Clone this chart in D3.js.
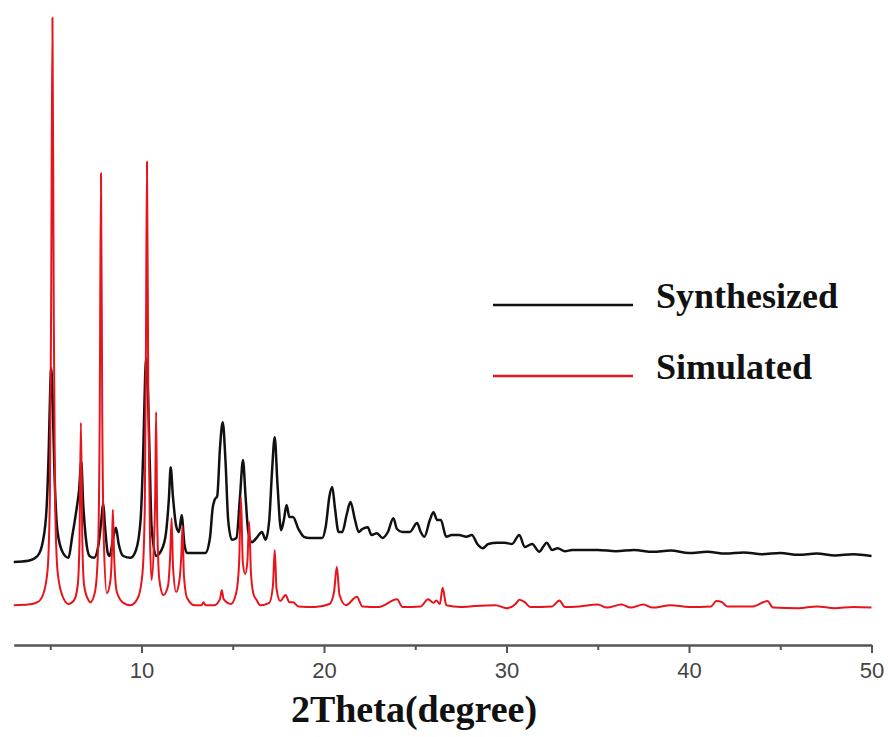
<!DOCTYPE html>
<html>
<head>
<meta charset="utf-8">
<script src="https://cdn.jsdelivr.net/npm/d3@7"></script>
<style>
  body { margin: 0; background: #fff; }
  svg { display: block; }
</style>
</head>
<body>
<svg id="chart" width="888" height="737"></svg>
<script>
// x tick labels
const majorTicks = [10, 20, 30, 40, 50];
const minorTicks = [5, 15, 25, 35, 45];

// [2theta, intensity a.u.] (curves already offset)
const synthesized = [
  [3.0, 11], [3.8, 11.2], [4.3, 12], [4.6, 14.5], [4.8, 20], [4.92, 30], [5.0, 40], [5.05, 43.3],
  [5.12, 39], [5.22, 27], [5.4, 16], [5.7, 12.5], [6.0, 11.7], [6.2, 15.2], [6.45, 20], [6.58, 23],
  [6.7, 27.7], [6.8, 21], [6.95, 15], [7.15, 12], [7.4, 11.7], [7.65, 14], [7.8, 18], [7.9, 20.8],
  [8.0, 17], [8.15, 12.5], [8.25, 12], [8.45, 15], [8.6, 16.7], [8.75, 14], [9.0, 12], [9.4, 11.7],
  [9.7, 13], [9.95, 18], [10.1, 30], [10.2, 42], [10.25, 45], [10.32, 42], [10.45, 28], [10.55, 17],
  [10.8, 12], [11.0, 12.5], [11.3, 15], [11.5, 21.5], [11.6, 26.8], [11.72, 22], [11.9, 17],
  [12.05, 16], [12.2, 18.8], [12.35, 14], [12.5, 12.5], [13.0, 12.5], [13.5, 12.5], [13.75, 15],
  [13.9, 20], [14.0, 21.3], [14.15, 22], [14.3, 30], [14.45, 34.3], [14.6, 28], [14.75, 18],
  [14.95, 14.7], [15.2, 15], [15.4, 22], [15.56, 28], [15.7, 22], [15.85, 16], [16.05, 14.3],
  [16.3, 15], [16.6, 16], [16.8, 14.7], [17.0, 18], [17.15, 26], [17.3, 31.8], [17.45, 24],
  [17.65, 16.3], [17.8, 18], [17.95, 20.5], [18.1, 18.5], [18.3, 18.5], [18.6, 16.5], [18.9, 15.2],
  [19.2, 15], [19.5, 15], [19.9, 15], [20.1, 17], [20.3, 22], [20.45, 23.5], [20.6, 20], [20.8, 16],
  [21.0, 16], [21.25, 19], [21.45, 21], [21.7, 18], [21.9, 16], [22.1, 16.5], [22.4, 16.8],
  [22.6, 15.5], [22.9, 15.8], [23.2, 15], [23.5, 16], [23.8, 18.3], [24.0, 16.5], [24.3, 16],
  [24.7, 16], [25.1, 17.5], [25.3, 16], [25.5, 15.2], [25.8, 18], [26.0, 19.3], [26.2, 18],
  [26.4, 18], [26.7, 15.2], [27.0, 15.5], [27.4, 15.5], [27.8, 15.2], [28.1, 15.5], [28.4, 14],
  [28.7, 13.3], [29.0, 14], [29.5, 14.2], [29.9, 14.2], [30.3, 14], [30.7, 15.5], [31.0, 13.5],
  [31.4, 14], [31.8, 12.7], [32.0, 13.5], [32.2, 14.2], [32.5, 13], [32.8, 13.3], [33.2, 12.8],
  [33.6, 13], [34.0, 13], [35.0, 13.0], [36.0, 12.8], [37.0, 13.0], [38.0, 12.7], [39.0, 12.9],
  [40.0, 12.5], [41.0, 12.7], [42.0, 12.4], [43.0, 12.6], [44.0, 12.3], [45.0, 12.5], [46.0, 12.2],
  [47.0, 12.4], [48.0, 12.1], [49.0, 12.3], [50.0, 12.0]
];

const simulated = [
  [3.0, 3.8], [3.8, 3.9], [4.3, 4.3], [4.6, 5.5], [4.85, 9.5], [4.98, 22], [5.05, 55], [5.12, 101.7],
  [5.19, 55], [5.26, 22], [5.4, 9.5], [5.65, 5.5], [6.0, 4.0], [6.3, 4.6], [6.5, 7], [6.6, 14],
  [6.68, 34.2], [6.76, 14], [6.86, 7], [7.1, 4.6], [7.2, 4.3], [7.45, 6], [7.62, 13], [7.71, 35],
  [7.78, 75.8], [7.85, 35], [7.94, 14], [8.1, 5.8], [8.3, 8], [8.38, 13], [8.43, 19.7], [8.5, 12],
  [8.65, 6], [9.0, 4.2], [9.4, 3.8], [9.8, 5], [10.05, 9], [10.18, 20], [10.24, 45], [10.3, 77.7],
  [10.37, 40], [10.46, 16], [10.55, 8], [10.68, 14], [10.75, 22], [10.8, 36], [10.86, 18],
  [10.98, 8], [11.2, 5.5], [11.45, 7], [11.57, 12], [11.65, 18.3], [11.73, 10], [11.9, 6],
  [12.08, 8], [12.18, 12], [12.25, 17], [12.32, 9], [12.5, 5], [12.9, 3.8], [13.3, 3.8], [13.4, 4.3],
  [13.5, 3.8], [14.0, 3.8], [14.3, 4.8], [14.4, 6.3], [14.5, 4.8], [14.9, 4.0], [15.2, 6],
  [15.35, 11], [15.45, 21.8], [15.55, 11], [15.68, 9], [15.8, 11], [15.9, 17.7], [16.0, 9],
  [16.15, 5.5], [16.3, 4.7], [16.5, 3.8], [17.0, 4.2], [17.2, 7], [17.3, 13], [17.4, 6.5],
  [17.6, 4.5], [17.9, 5.5], [18.1, 4.3], [18.3, 4.3], [18.6, 3.6], [19.5, 3.5], [20.3, 4],
  [20.55, 6], [20.7, 10.2], [20.85, 5.5], [21.2, 3.8], [21.8, 5.2], [22.1, 3.6], [23.0, 3.5],
  [24.0, 4.8], [24.3, 3.5], [25.3, 3.6], [25.7, 4.8], [26.0, 4.2], [26.15, 4.6], [26.35, 4.0],
  [26.5, 6.7], [26.7, 3.8], [27.5, 3.5], [28.0, 3.6], [29.4, 3.8], [30.0, 3.3], [30.5, 4.0],
  [30.7, 4.7], [31.0, 4.3], [31.3, 3.5], [32.5, 3.6], [32.9, 4.6], [33.2, 3.5], [34.0, 3.6],
  [35.0, 3.9], [35.5, 3.4], [36.3, 3.9], [36.8, 3.4], [37.5, 3.9], [38.0, 3.4], [39.0, 3.8],
  [40.0, 3.5], [41.2, 3.6], [41.5, 4.5], [41.8, 4.3], [42.1, 3.6], [43.5, 3.6], [44.3, 4.5],
  [44.6, 3.4], [46.0, 3.3], [47.0, 3.6], [48.0, 3.3], [49.0, 3.5], [50.0, 3.4]
];

const seriesNames = ["Synthesized", "Simulated"];
const seriesColors = ["#111111", "#e8141c"];
const seriesWidths = [2.5, 2];

const svg = d3.select("#chart");

const x = d3.scaleLinear().domain([3, 50]).range([13.75, 871.5]);
const y = d3.scaleLinear().domain([0, 100]).range([628, 28]);

const line = d3.line()
  .x(d => x(d[0]))
  .y(d => y(d[1]))
  .curve(d3.curveMonotoneX);

// traces
[synthesized, simulated].forEach((data, i) => {
  svg.append("path")
    .datum(data)
    .attr("fill", "none")
    .attr("stroke", seriesColors[i])
    .attr("stroke-width", seriesWidths[i])
    .attr("stroke-linejoin", "round")
    .attr("d", line);
});

// x axis
const axisY = 645;
const axisG = svg.append("g")
  .attr("transform", `translate(0,${axisY})`)
  .call(d3.axisBottom(x).tickValues(majorTicks).tickSize(8).tickSizeOuter(0).tickPadding(9));

axisG.select(".domain").attr("stroke", "#555").attr("stroke-width", 2.5);
axisG.selectAll(".tick line").attr("stroke", "#555").attr("stroke-width", 2);
axisG.selectAll(".tick text")
  .attr("font-family", "'Liberation Sans', Arial, sans-serif")
  .attr("font-size", 22)
  .attr("fill", "#444");

const minorG = svg.append("g")
  .attr("transform", `translate(0,${axisY})`)
  .call(d3.axisBottom(x).tickValues(minorTicks).tickSize(5).tickFormat(""));
minorG.select(".domain").remove();
minorG.selectAll(".tick line").attr("stroke", "#555").attr("stroke-width", 2);

// axis title
svg.append("text")
  .attr("x", 414)
  .attr("y", 722)
  .attr("text-anchor", "middle")
  .attr("font-family", "'Liberation Serif', 'Times New Roman', serif")
  .attr("font-weight", "bold")
  .attr("font-size", 38)
  .attr("fill", "#111")
  .text("2Theta(degree)");

// legend
const legend = svg.append("g");
seriesNames.forEach((name, i) => {
  const ly = 305 + i * 71;
  legend.append("line")
    .attr("x1", 493).attr("x2", 633)
    .attr("y1", ly).attr("y2", ly)
    .attr("stroke", seriesColors[i])
    .attr("stroke-width", 2.5);
  legend.append("text")
    .attr("x", 656)
    .attr("y", ly + 3)
    .attr("font-family", "'Liberation Serif', 'Times New Roman', serif")
    .attr("font-weight", "bold")
    .attr("font-size", 36)
    .attr("fill", "#111")
    .text(name);
});
</script>
</body>
</html>
